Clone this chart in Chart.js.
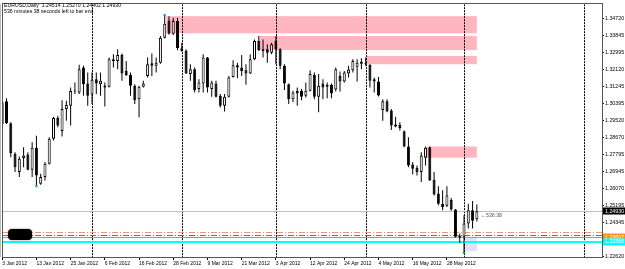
<!DOCTYPE html>
<html>
<head>
<meta charset="utf-8">
<script src="https://cdn.jsdelivr.net/npm/chart.js@4.4.1/dist/chart.umd.min.js"></script>
<style>
  html, body { margin: 0; padding: 0; background: #fff; }
</style>
</head>
<body>
<canvas id="chart" width="625" height="269"></canvas>
<script>
// ─── EURUSD daily, 3 Jan 2012 .. 6 Jun 2012 ─────────────────────
const OPEN = [
  1.2935, 1.3050, 1.2939, 1.2784, 1.2691, 1.2762, 1.2780, 1.2703, 1.2814, 1.2632,
  1.2666, 1.2733, 1.2860, 1.2966, 1.2900, 1.3011, 1.3028, 1.3103, 1.3095, 1.3221,
  1.3140, 1.3085, 1.3162, 1.3137, 1.3120, 1.3124, 1.3263, 1.3255, 1.3285, 1.3204,
  1.3184, 1.3129, 1.3061, 1.3124, 1.3179, 1.3243, 1.3230, 1.3246, 1.3373, 1.3460,
  1.3393, 1.3457, 1.3319, 1.3305, 1.3188, 1.3213, 1.3112, 1.3140, 1.3272, 1.3112,
  1.3140, 1.3078, 1.3028, 1.3073, 1.3174, 1.3233, 1.3221, 1.3208, 1.3191, 1.3263,
  1.3356, 1.3314, 1.3314, 1.3297, 1.3356, 1.3314, 1.3230, 1.3137, 1.3061, 1.3104,
  1.3104, 1.3078, 1.3104, 1.3184, 1.3073, 1.3140, 1.3124, 1.3134, 1.3110, 1.3179,
  1.3151, 1.3191, 1.3208, 1.3225, 1.3241, 1.3243, 1.3235, 1.3162, 1.3151, 1.3006,
  1.3050, 1.3003, 1.2932, 1.2930, 1.2898, 1.2821, 1.2730, 1.2713, 1.2691, 1.2764,
  1.2817, 1.2652, 1.2582, 1.2531, 1.2520, 1.2550, 1.2501, 1.2367, 1.2363, 1.2430,
  1.2498, 1.24514
];
const HIGH = [
  1.3073, 1.3066, 1.2944, 1.2792, 1.2770, 1.2817, 1.2792, 1.2843, 1.2876, 1.2683,
  1.2742, 1.2868, 1.2972, 1.2977, 1.3056, 1.3053, 1.3120, 1.3146, 1.3235, 1.3230,
  1.3196, 1.3196, 1.3196, 1.3196, 1.3146, 1.3272, 1.3289, 1.3314, 1.3292, 1.3255,
  1.3196, 1.3137, 1.3129, 1.3154, 1.3272, 1.3292, 1.3272, 1.3381, 1.3486, 1.3482,
  1.3474, 1.3474, 1.3347, 1.3314, 1.3238, 1.3221, 1.3162, 1.3289, 1.3275, 1.3154,
  1.3154, 1.3087, 1.3087, 1.3179, 1.3258, 1.3246, 1.3285, 1.3238, 1.3289, 1.3364,
  1.3381, 1.3364, 1.3339, 1.3347, 1.3381, 1.3319, 1.3238, 1.3140, 1.3104, 1.3120,
  1.3112, 1.3146, 1.3208, 1.3196, 1.3188, 1.3162, 1.3146, 1.3140, 1.3221, 1.3201,
  1.3204, 1.3230, 1.3263, 1.3263, 1.3268, 1.3272, 1.3238, 1.3171, 1.3174, 1.3061,
  1.3061, 1.3011, 1.2972, 1.2944, 1.2902, 1.2868, 1.2742, 1.2725, 1.2792, 1.2821,
  1.2821, 1.2691, 1.2619, 1.2599, 1.2619, 1.2560, 1.2504, 1.2380, 1.2472, 1.2530,
  1.2545, 1.25270
];
const LOW = [
  1.2927, 1.2935, 1.2767, 1.2691, 1.2666, 1.2716, 1.2700, 1.2666, 1.2624, 1.2627,
  1.2649, 1.2730, 1.2851, 1.2918, 1.2871, 1.2952, 1.2927, 1.3087, 1.3087, 1.3078,
  1.3028, 1.3036, 1.3087, 1.3078, 1.3024, 1.3120, 1.3221, 1.3213, 1.3154, 1.3179,
  1.3078, 1.3036, 1.2969, 1.3120, 1.3171, 1.3179, 1.3196, 1.3241, 1.3369, 1.3389,
  1.3386, 1.3309, 1.3302, 1.3188, 1.3154, 1.3095, 1.3095, 1.3095, 1.3095, 1.3073,
  1.3070, 1.3019, 1.2999, 1.3070, 1.3171, 1.3167, 1.3179, 1.3134, 1.3188, 1.3258,
  1.3305, 1.3272, 1.3246, 1.3289, 1.3238, 1.3213, 1.3107, 1.3036, 1.3045, 1.3028,
  1.3056, 1.3070, 1.3100, 1.3061, 1.2994, 1.3061, 1.3066, 1.3066, 1.3100, 1.3100,
  1.3146, 1.3171, 1.3196, 1.3151, 1.3213, 1.3230, 1.3120, 1.3095, 1.3075, 1.2952,
  1.2994, 1.2905, 1.2918, 1.2902, 1.2817, 1.2716, 1.2679, 1.2674, 1.2641, 1.2725,
  1.2646, 1.2573, 1.2523, 1.2498, 1.2514, 1.2495, 1.2360, 1.2330, 1.2287, 1.2405,
  1.2405, 1.24402
];
const CLOSE = [
  1.3045, 1.2939, 1.2787, 1.2716, 1.2759, 1.2775, 1.2703, 1.2814, 1.2674, 1.2666,
  1.2733, 1.2860, 1.2966, 1.2927, 1.3011, 1.3031, 1.3103, 1.3100, 1.3213, 1.3137,
  1.3078, 1.3159, 1.3140, 1.3154, 1.3130, 1.3263, 1.3255, 1.3285, 1.3191, 1.3184,
  1.3129, 1.3056, 1.3124, 1.3140, 1.3238, 1.3230, 1.3246, 1.3373, 1.3443, 1.3393,
  1.3457, 1.3319, 1.3305, 1.3191, 1.3213, 1.3107, 1.3146, 1.3272, 1.3120, 1.3146,
  1.3073, 1.3028, 1.3073, 1.3171, 1.3233, 1.3221, 1.3204, 1.3191, 1.3263, 1.3356,
  1.3309, 1.3305, 1.3297, 1.3339, 1.3314, 1.3230, 1.3140, 1.3061, 1.3095, 1.3090,
  1.3073, 1.3104, 1.3188, 1.3073, 1.3129, 1.3120, 1.3134, 1.3090, 1.3213, 1.3151,
  1.3196, 1.3211, 1.3255, 1.3246, 1.3251, 1.3238, 1.3154, 1.3151, 1.3080, 1.3050,
  1.2999, 1.2927, 1.2922, 1.2915, 1.2821, 1.2725, 1.2708, 1.2691, 1.2775, 1.2814,
  1.2649, 1.2578, 1.2531, 1.2514, 1.2573, 1.2501, 1.2363, 1.2360, 1.2430, 1.2498,
  1.2444, 1.24930
];

// axis labels
const X_TICK_BARS = [0, 8, 16, 24, 32, 40, 48, 56, 64, 72, 80, 88, 96, 104];
const X_LABELS = ['3 Jan 2012', '13 Jan 2012', '25 Jan 2012', '6 Feb 2012', '16 Feb 2012',
  '28 Feb 2012', '9 Mar 2012', '21 Mar 2012', '3 Apr 2012', '12 Apr 2012',
  '24 Apr 2012', '4 May 2012', '16 May 2012', '28 May 2012'];
const Y_TICKS = [1.34720, 1.33845, 1.32995, 1.32120, 1.31245, 1.30395, 1.29520,
  1.28670, 1.27795, 1.26945, 1.26070, 1.25195, 1.24345, 1.22620];

// month separators (bar index)
const SEPARATORS = [21, 42, 64, 85, 108, 136];

// supply zones (bar index from/to, price hi/lo)
const ZONE_FROM = [38.4, 60.2, 85.2, 99.3];
const ZONE_TO   = [111, 111, 111, 111];
const ZONE_HI   = [1.3482, 1.3381, 1.3280, 1.2821];
const ZONE_LO   = [1.3395, 1.3310, 1.3238, 1.2764];

// small box under the June bars
const BOX_FROM = 108, BOX_TO = 111, BOX_HI = 1.23607, BOX_LO = 1.2290;

// horizontal levels
const BID = 1.24930;
const LEVEL_DASHDOT_ORANGE = 1.2388;
const LEVEL_DASHDOT_GREEN  = 1.2370;
const LEVEL_ORANGE = 1.23607;
const LEVEL_CYAN   = 1.23366;

// fractal dots
const DOT_BARS   = [8, 38, 108];
const DOT_PRICES = [1.2620, 1.3488, 1.2282];
const DOT_COLORS = ['#1e90ff', '#1e90ff', '#19a019'];

// hidden label blob (bar index from/to, price)
const BLOB_FROM = 1.36, BLOB_TO = 6.97, BLOB_PRICE = 1.2374;

const TIMER_TEXT = '536 minutes 38 seconds left to bar end';
const TIMER_SHORT = '\u2190536:38';

const FONT = "'Liberation Sans', Arial, sans-serif";
const LAST = OPEN.length - 1;

// ─── Overlay drawing (zones, levels, labels) ─────────────────────
const overlays = {
  id: 'overlays',
  beforeDatasetsDraw(chart) {
    const { ctx, chartArea: a, scales: { x, y } } = chart;
    ctx.save();
    ctx.beginPath();
    ctx.rect(a.left, a.top, a.right - a.left, a.bottom - a.top);
    ctx.clip();

    ctx.fillStyle = '#ffb6c1';
    ZONE_FROM.forEach((f, k) => {
      const x0 = x.getPixelForValue(f), x1 = x.getPixelForValue(ZONE_TO[k]);
      const y0 = y.getPixelForValue(ZONE_HI[k]), y1 = y.getPixelForValue(ZONE_LO[k]);
      ctx.fillRect(x0, y0, x1 - x0, y1 - y0);
    });

    ctx.fillStyle = '#dfdff7';
    const bx0 = x.getPixelForValue(BOX_FROM), bx1 = x.getPixelForValue(BOX_TO);
    const by0 = y.getPixelForValue(BOX_HI), by1 = y.getPixelForValue(BOX_LO);
    ctx.fillRect(bx0, by0, bx1 - bx0, by1 - by0);

    // month separators
    ctx.strokeStyle = '#000';
    ctx.lineWidth = 1;
    ctx.setLineDash([2, 1]);
    SEPARATORS.forEach(b => {
      const px = Math.round(x.getPixelForValue(b)) + 0.5;
      ctx.beginPath();
      ctx.moveTo(px, a.top);
      ctx.lineTo(px, a.bottom);
      ctx.stroke();
    });

    const hline = (price, color, width, dash) => {
      const py = Math.round(y.getPixelForValue(price)) + (width % 2 ? 0.5 : 0);
      ctx.strokeStyle = color;
      ctx.lineWidth = width;
      ctx.setLineDash(dash);
      ctx.beginPath();
      ctx.moveTo(a.left, py);
      ctx.lineTo(a.right, py);
      ctx.stroke();
    };
    hline(BID, '#c0c0c0', 1, []);
    hline(LEVEL_DASHDOT_ORANGE, '#f29a72', 1, [6, 2, 1, 2]);
    hline(LEVEL_DASHDOT_GREEN, '#3c9a3c', 1, [6, 2, 1, 2]);
    hline(LEVEL_ORANGE, '#f08a1e', 1, []);
    hline(LEVEL_CYAN, '#00ffff', 2, []);
    ctx.restore();
  },
  afterDraw(chart) {
    const { ctx, chartArea: a, scales: { x, y } } = chart;
    ctx.save();

    // frame
    ctx.strokeStyle = '#555';
    ctx.lineWidth = 1;
    ctx.strokeRect(Math.round(a.left) + 0.5, Math.round(a.top) - 0.5,
      Math.round(a.right - a.left), Math.round(a.bottom - a.top) + 1);
    ctx.strokeStyle = '#bbb';
    ctx.beginPath();
    ctx.moveTo(0.5, a.top);
    ctx.lineTo(0.5, a.bottom);
    ctx.stroke();

    // title
    ctx.fillStyle = '#000';
    ctx.font = `5.2px ${FONT}`;
    ctx.textAlign = 'left';
    ctx.textBaseline = 'middle';
    const ohlc = [OPEN[LAST], HIGH[LAST], LOW[LAST], CLOSE[LAST]].map(v => v.toFixed(5)).join(' ');
    ctx.fillText(`EURUSD,Daily  ${ohlc}`, 4, 6);
    ctx.fillText(TIMER_TEXT, 4, 12);

    // bar timer next to last candle
    ctx.fillStyle = '#555';
    ctx.textBaseline = 'top';
    ctx.fillText(TIMER_SHORT, x.getPixelForValue(LAST) + 4, y.getPixelForValue(BID) + 1.5);

    // hidden label blob
    const qx0 = x.getPixelForValue(BLOB_FROM), qx1 = x.getPixelForValue(BLOB_TO);
    const qy = y.getPixelForValue(BLOB_PRICE);
    ctx.fillStyle = '#000';
    ctx.shadowColor = 'rgba(0,0,0,0.5)';
    ctx.shadowBlur = 2;
    ctx.beginPath();
    ctx.roundRect(qx0, qy - 5.5, qx1 - qx0, 11, 4);
    ctx.fill();
    ctx.shadowBlur = 0;

    // price labels on the axis
    const tag = (price, bg, fg) => {
      const py = y.getPixelForValue(price);
      ctx.fillStyle = bg;
      ctx.fillRect(a.right + 1, Math.round(py) - 3.5, 22, 7);
      ctx.fillStyle = fg;
      ctx.textBaseline = 'middle';
      ctx.fillText(price.toFixed(5), a.right + 3, py);
    };
    ctx.font = `5.3px ${FONT}`;
    tag(BID, '#000', '#fff');
    tag(LEVEL_ORANGE, '#f7941d', '#fff');
    tag(LEVEL_CYAN, '#00ffff', '#fff');
    ctx.restore();
  }
};

// ─── Candles ─────────────────────────────────────────────────────
const bars = OPEN.map((_, i) => i);
const bodies = bars.map(i => ({ x: i, y: [OPEN[i], CLOSE[i]] }));
const wicks = bars.map(i => ({ x: i, y: [LOW[i], HIGH[i]] }));
const dots = DOT_BARS.map((b, k) => ({ x: b, y: DOT_PRICES[k] }));
const isUp = i => CLOSE[i] >= OPEN[i];

new Chart(document.getElementById('chart').getContext('2d'), {
  type: 'bar',
  data: {
    datasets: [
      {
        data: bodies,
        grouped: false,
        maxBarThickness: 3,
        minBarLength: 1,
        backgroundColor: c => isUp(c.dataIndex) ? '#ffffff' : '#000000',
        borderColor: '#000',
        borderWidth: 1,
        borderSkipped: false,
        order: 1
      },
      {
        data: wicks,
        grouped: false,
        maxBarThickness: 1,
        backgroundColor: '#000',
        borderWidth: 0,
        order: 2
      },
      {
        type: 'scatter',
        data: dots,
        pointRadius: 1.3,
        pointBorderWidth: 0,
        pointBackgroundColor: DOT_COLORS,
        order: 0
      }
    ]
  },
  options: {
    responsive: false,
    animation: false,
    layout: { padding: { left: 2, top: 3, right: 0, bottom: 0 }, autoPadding: false },
    plugins: { legend: { display: false }, tooltip: { enabled: false } },
    scales: {
      x: {
        type: 'linear',
        offset: false,
        min: -0.05,
        max: 140.27,
        afterBuildTicks: s => { s.ticks = X_TICK_BARS.map(v => ({ value: v })); },
        afterFit: s => { s.height = 12; },
        border: { display: true, color: '#000' },
        grid: { drawOnChartArea: false, drawTicks: true, tickLength: 3, color: '#000', offset: false },
        ticks: {
          autoSkip: false,
          maxRotation: 0,
          align: 'start',
          padding: 1,
          color: '#000',
          font: { family: FONT, size: 5 },
          callback: v => X_LABELS[X_TICK_BARS.indexOf(v)]
        }
      },
      y: {
        position: 'right',
        min: 1.22605,
        max: 1.35427,
        afterBuildTicks: s => { s.ticks = Y_TICKS.map(v => ({ value: v })); },
        afterFit: s => { s.width = 23; },
        border: { display: true, color: '#000' },
        grid: { drawOnChartArea: false, drawTicks: true, tickLength: 2, color: '#000' },
        ticks: {
          padding: 1,
          color: '#000',
          font: { family: FONT, size: 5.3 },
          callback: v => v.toFixed(5)
        }
      }
    }
  },
  plugins: [overlays]
});
</script>
</body>
</html>
